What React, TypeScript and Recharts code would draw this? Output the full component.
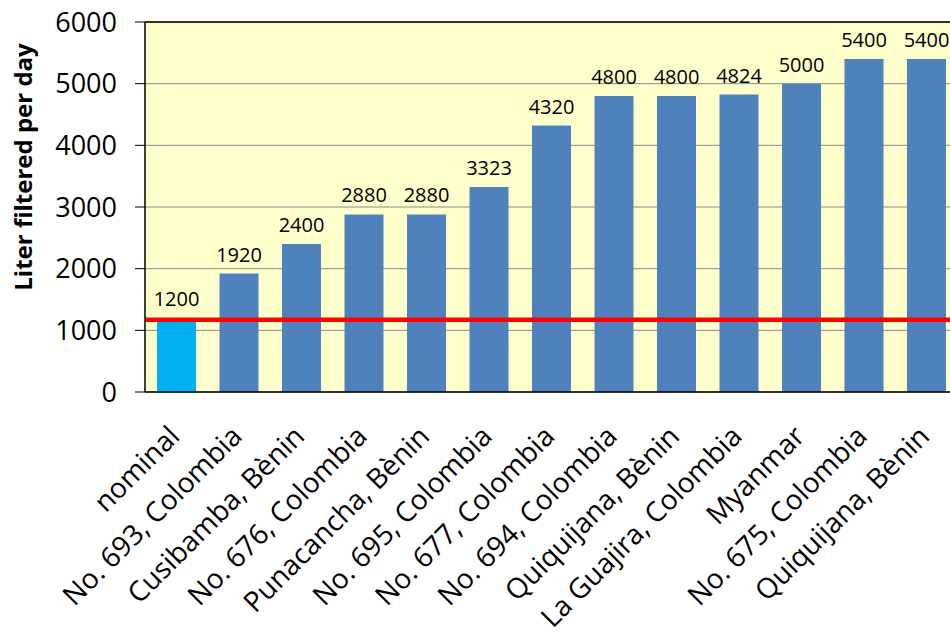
import { BarChart, Bar, XAxis, YAxis, CartesianGrid, ReferenceLine, LabelList, Cell } from 'recharts';

const sites = [
  'nominal',
  'No. 693, Colombia',
  'Cusibamba, Bènin',
  'No. 676, Colombia',
  'Punacancha, Bènin',
  'No. 695, Colombia',
  'No. 677, Colombia',
  'No. 694, Colombia',
  'Quiquijana, Bènin',
  'La Guajira, Colombia',
  'Myanmar',
  'No. 675, Colombia',
  'Quiquijana, Bènin',
];
const litersPerDay = [1200, 1920, 2400, 2880, 2880, 3323, 4320, 4800, 4800, 4824, 5000, 5400, 5400];
const yTicks = [0, 1000, 2000, 3000, 4000, 5000, 6000];
const threshold = 1170;

const FONT = '"Open Sans", "Noto Sans", sans-serif';

function SiteTick({ x, y, payload }: any) {
  const tx = x + 5;
  const ty = y + 44;
  return (
    <text
      x={tx}
      y={ty}
      transform={`rotate(-45, ${tx}, ${ty})`}
      textAnchor="end"
      fontSize={28}
      fontFamily={FONT}
      fill="#000"
    >
      {payload.value}
    </text>
  );
}

function AxisTitle() {
  return (
    <text
      x={22}
      y={167}
      transform="rotate(-90, 22, 167)"
      textAnchor="middle"
      dominantBaseline="central"
      fontSize={24}
      fontWeight={700}
      fontFamily={FONT}
      fill="#000"
    >
      Liter filtered per day
    </text>
  );
}

export default function App() {
  const data = sites.map((s, i) => ({ site: s, value: litersPerDay[i] }));

  return (
    <div style={{ position: 'absolute', left: 0, top: 0, width: 950, height: 632, overflow: 'hidden', background: '#fff' }}>
      <BarChart
        width={960}
        height={632}
        data={data}
        margin={{ top: 22, right: 2.5, left: 0, bottom: 0 }}
      >
        <CartesianGrid vertical={false} stroke="#8a8a8a" fill="#FFFFCC" />
        <XAxis
          dataKey="site"
          interval={0}
          height={240}
          tick={<SiteTick />}
          tickLine={false}
          tickSize={0}
          axisLine={{ stroke: '#000', strokeWidth: 1.5 }}
        />
        <YAxis
          width={145}
          domain={[0, 6000]}
          ticks={yTicks}
          interval={0}
          tickSize={10}
          tickMargin={18}
          tick={{ fill: '#000', fontSize: 27, fontFamily: FONT }}
          tickLine={{ stroke: '#000' }}
          axisLine={{ stroke: '#000', strokeWidth: 1.5 }}
          label={{ content: () => <AxisTitle /> }}
        />
        <ReferenceLine y={6000} stroke="#000" strokeWidth={1.5} />
        <Bar dataKey="value" isAnimationActive={false} fill="#4F81BD" barSize={39}>
          {data.map((d, i) => (
            <Cell key={i} fill={i === 0 ? '#00B0F0' : '#4F81BD'} />
          ))}
          <LabelList dataKey="value" position="top" offset={12} fill="#000" fontSize={20} fontFamily={FONT} />
        </Bar>
        <ReferenceLine y={threshold} stroke="#FF0000" strokeWidth={4.5} />
      </BarChart>
    </div>
  );
}
